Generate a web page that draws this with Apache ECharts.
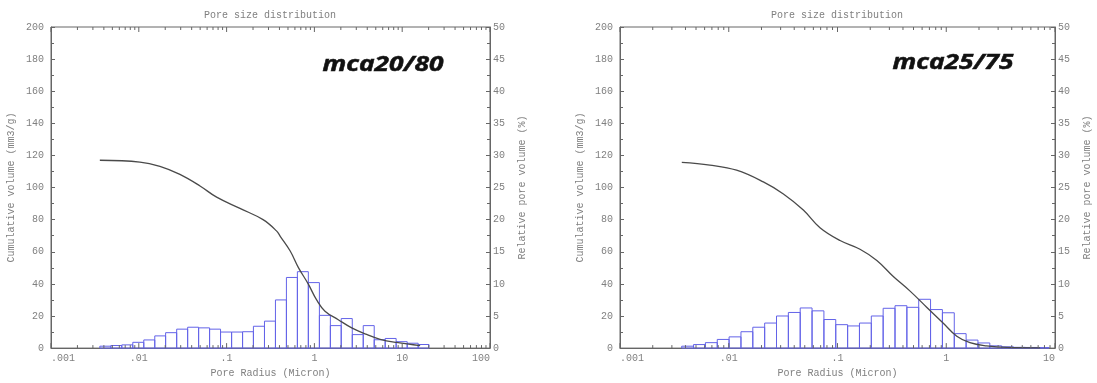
<!DOCTYPE html>
<html><head><meta charset="utf-8">
<script src="https://cdn.jsdelivr.net/npm/echarts@6/dist/echarts.min.js"></script>
<style>html,body{margin:0;padding:0;background:#fff}#c{width:1097px;height:383px}</style>
</head><body><div id="c"></div>
<script>
// ---------- data ----------
const xTickLabels = ['.001', '.01', '.1', '1', '10', '100'];
const chartTitle = 'Pore size distribution';
const xName = 'Pore Radius (Micron)';
const yLeftName = 'Cumulative volume (mm3/g)';
const yRightName = 'Relative pore volume (%)';
const sampleA = 'mca20/80';
const sampleB = 'mca25/75';

// Panel A (mca20/80): histogram bin edges (micron) and relative pore volume (%)
const binEdgesA = [0.0036, 0.0048, 0.0064, 0.00854, 0.0114, 0.0152, 0.0202, 0.0270, 0.0360, 0.0480,
  0.0640, 0.0853, 0.114, 0.152, 0.202, 0.270, 0.360, 0.480, 0.640, 0.853,
  1.14, 1.52, 2.02, 2.70, 3.60, 4.80, 6.40, 8.53, 11.4, 15.2, 20.2];
const relVolA = [0.3, 0.4, 0.5, 0.9, 1.27, 1.9, 2.4, 2.95, 3.25, 3.15,
  2.95, 2.5, 2.5, 2.55, 3.4, 4.2, 7.5, 11.0, 11.9, 10.2,
  5.1, 3.5, 4.6, 2.1, 3.5, 1.3, 1.5, 1.0, 0.76, 0.56];
// Panel A cumulative curve
const cumRadiusA = [0.0036, 0.0103, 0.0174, 0.0294, 0.0498, 0.077, 0.142, 0.26, 0.37, 0.41, 0.53,
  0.66, 0.85, 1.06, 1.32, 1.87, 2.66, 3.94, 5.6, 8.6, 16];
const cumVolA = [117, 115.9, 113.2, 108.2, 101, 94, 87, 80, 73, 69.5, 60.5,
  50, 40, 30, 23, 17.7, 12.6, 8.5, 5.5, 3.5, 1.5];

// Panel B (mca25/75)
const binEdgesB = [0.003692, 0.004746, 0.006099, 0.007839, 0.01007, 0.01295, 0.01664, 0.02139, 0.02749, 0.03533,
  0.04540, 0.05835, 0.07499, 0.09638, 0.1239, 0.1592, 0.2046, 0.2629, 0.3379, 0.4343,
  0.5581, 0.7173, 0.9220, 1.185, 1.523, 1.957, 2.515, 3.233, 4.155, 5.340, 6.862, 8.819];
const relVolB = [0.3, 0.55, 0.85, 1.35, 1.75, 2.55, 3.25, 3.9, 5.0, 5.55,
  6.25, 5.8, 4.45, 3.65, 3.45, 3.9, 5.0, 6.2, 6.6, 6.35,
  7.6, 6.0, 5.5, 2.25, 1.25, 0.8, 0.35, 0.2, 0.12, 0.1, 0.08];
const cumRadiusB = [0.0037, 0.0067, 0.0118, 0.0208, 0.0318, 0.0485, 0.069, 0.1055, 0.161, 0.23,
  0.326, 0.465, 0.66, 0.94, 1.25, 1.65, 2.35, 3.6, 7.3];
const cumVolB = [115.7, 114, 110.8, 103.5, 96, 86, 75, 67, 61.6, 54.6,
  44.6, 35.5, 25.5, 15.5, 7.4, 3.4, 1.4, 0.4, 0.2];

// ---------- styling ----------
const AXIS_COLOR = '#666';
const LABEL_COLOR = '#808080';
const MONO = '"Liberation Mono", "DejaVu Sans Mono", monospace';
const BAR_COLOR = '#6363e8';
const CURVE_COLOR = '#4a4a4a';

const chart = echarts.init(document.getElementById('c'));

function bins(edges, vals) {
  return vals.map((v, i) => [edges[i], edges[i + 1], v]);
}
function pairs(xs, ys) { return xs.map((x, i) => [x, ys[i]]); }

function renderBar(params, api) {
  const p0 = api.coord([api.value(0), 0]);
  const p1 = api.coord([api.value(1), api.value(2)]);
  return {
    type: 'rect',
    shape: { x: p0[0], y: p1[1], width: p1[0] - p0[0], height: p0[1] - p1[1] },
    style: { fill: 'none', stroke: BAR_COLOR, lineWidth: 1 }
  };
}

// log-axis tick marks (major decades + minor 2..9), drawn inward on top and bottom
function logTicks(minExp, maxExp) {
  const out = [];
  for (let e = minExp; e <= maxExp; e++) {
    out.push([Math.pow(10, e), 1]);
    if (e < maxExp) for (let m = 2; m <= 9; m++) out.push([m * Math.pow(10, e), 0]);
  }
  return out;
}
function renderTick(params, api) {
  const v = api.value(0), major = api.value(1) === 1;
  const b = api.coord([v, 0]);
  const t = api.coord([v, 50]);
  const len = major ? 5 : 3;
  const st = { stroke: AXIS_COLOR, lineWidth: 1 };
  return {
    type: 'group', children: [
      { type: 'line', shape: { x1: b[0], y1: b[1], x2: b[0], y2: b[1] - len }, style: st },
      { type: 'line', shape: { x1: t[0], y1: t[1], x2: t[0], y2: t[1] + len }, style: st }
    ]
  };
}

const labelStyle = { color: LABEL_COLOR, fontFamily: MONO, fontSize: 10 };
const nameStyle = { color: LABEL_COLOR, fontFamily: MONO, fontSize: 10 };

function xAxisCfg(grid, maxV) {
  return {
    type: 'log', logBase: 10, gridIndex: grid, min: 0.001, max: maxV,
    name: xName, nameLocation: 'middle', nameGap: 18, nameTextStyle: nameStyle,
    axisLine: { show: true, lineStyle: { color: AXIS_COLOR } },
    axisTick: { show: false },
    splitLine: { show: false },
    axisLabel: Object.assign({
      margin: 5, alignMinLabel: 'left', alignMaxLabel: 'right',
      formatter: v => xTickLabels[Math.round(Math.log10(v)) + 3]
    }, labelStyle)
  };
}
function yLeftCfg(grid) {
  return {
    type: 'value', gridIndex: grid, position: 'left', min: 0, max: 200, interval: 20,
    name: yLeftName, nameLocation: 'middle', nameGap: 35, nameTextStyle: nameStyle,
    axisLine: { show: true, lineStyle: { color: AXIS_COLOR } },
    axisTick: { show: true, inside: true, length: 4, lineStyle: { color: AXIS_COLOR } },
    minorTick: { show: true, splitNumber: 2, length: 3, lineStyle: { color: AXIS_COLOR } },
    splitLine: { show: false },
    axisLabel: Object.assign({ margin: 7 }, labelStyle)
  };
}
function yRightCfg(grid) {
  return {
    type: 'value', gridIndex: grid, position: 'right', min: 0, max: 50, interval: 5,
    name: yRightName, nameLocation: 'middle', nameGap: 27, nameTextStyle: nameStyle,
    axisLine: { show: true, lineStyle: { color: AXIS_COLOR } },
    axisTick: { show: true, inside: true, length: 4, lineStyle: { color: AXIS_COLOR } },
    minorTick: { show: true, splitNumber: 2, length: 3, lineStyle: { color: AXIS_COLOR } },
    splitLine: { show: false },
    axisLabel: Object.assign({ margin: 3 }, labelStyle)
  };
}

const sampleFont = 'italic bold 21px "Open Sans"';
const option = {
  animation: false,
  backgroundColor: '#fff',
  grid: [
    { left: 51, right: 607, top: 27, bottom: 28, show: true, borderColor: AXIS_COLOR, borderWidth: 1, backgroundColor: 'transparent' },
    { left: 620, right: 42, top: 27, bottom: 24, show: true, borderColor: AXIS_COLOR, borderWidth: 1, backgroundColor: 'transparent' }
  ],
  xAxis: [xAxisCfg(0, 100), xAxisCfg(1, 10)],
  yAxis: [yLeftCfg(0), yRightCfg(0), yLeftCfg(1), yRightCfg(1)],
  graphic: [
    { type: 'text', x: 270, y: 15, style: { text: chartTitle, font: '10px ' + MONO, fill: LABEL_COLOR, align: 'center', verticalAlign: 'middle' } },
    { type: 'text', x: 837, y: 15, style: { text: chartTitle, font: '10px ' + MONO, fill: LABEL_COLOR, align: 'center', verticalAlign: 'middle' } },
    { type: 'text', x: 383, y: 65, scaleX: 1.25, style: { text: sampleA, font: sampleFont, fill: '#111', stroke: '#111', lineWidth: 0.5, align: 'center', verticalAlign: 'middle' } },
    { type: 'text', x: 953, y: 63, scaleX: 1.25, style: { text: sampleB, font: sampleFont, fill: '#111', stroke: '#111', lineWidth: 0.5, align: 'center', verticalAlign: 'middle' } }
  ],
  series: [
    { type: 'custom', xAxisIndex: 0, yAxisIndex: 1, renderItem: renderBar, encode: { x: [0, 1], y: 2 }, data: bins(binEdgesA, relVolA), silent: true, z: 2 },
    { type: 'line', xAxisIndex: 0, yAxisIndex: 0, data: pairs(cumRadiusA, cumVolA), smooth: 0.4, showSymbol: false, lineStyle: { color: CURVE_COLOR, width: 1.3 }, z: 3 },
    { type: 'custom', xAxisIndex: 0, yAxisIndex: 1, renderItem: renderTick, encode: { x: 0 }, data: logTicks(-3, 2), silent: true, z: 4 },
    { type: 'custom', xAxisIndex: 1, yAxisIndex: 3, renderItem: renderBar, encode: { x: [0, 1], y: 2 }, data: bins(binEdgesB, relVolB), silent: true, z: 2 },
    { type: 'line', xAxisIndex: 1, yAxisIndex: 2, data: pairs(cumRadiusB, cumVolB), smooth: 0.4, showSymbol: false, lineStyle: { color: CURVE_COLOR, width: 1.3 }, z: 3 },
    { type: 'custom', xAxisIndex: 1, yAxisIndex: 3, renderItem: renderTick, encode: { x: 0 }, data: logTicks(-3, 1), silent: true, z: 4 }
  ]
};
chart.setOption(option);
</script></body></html>
